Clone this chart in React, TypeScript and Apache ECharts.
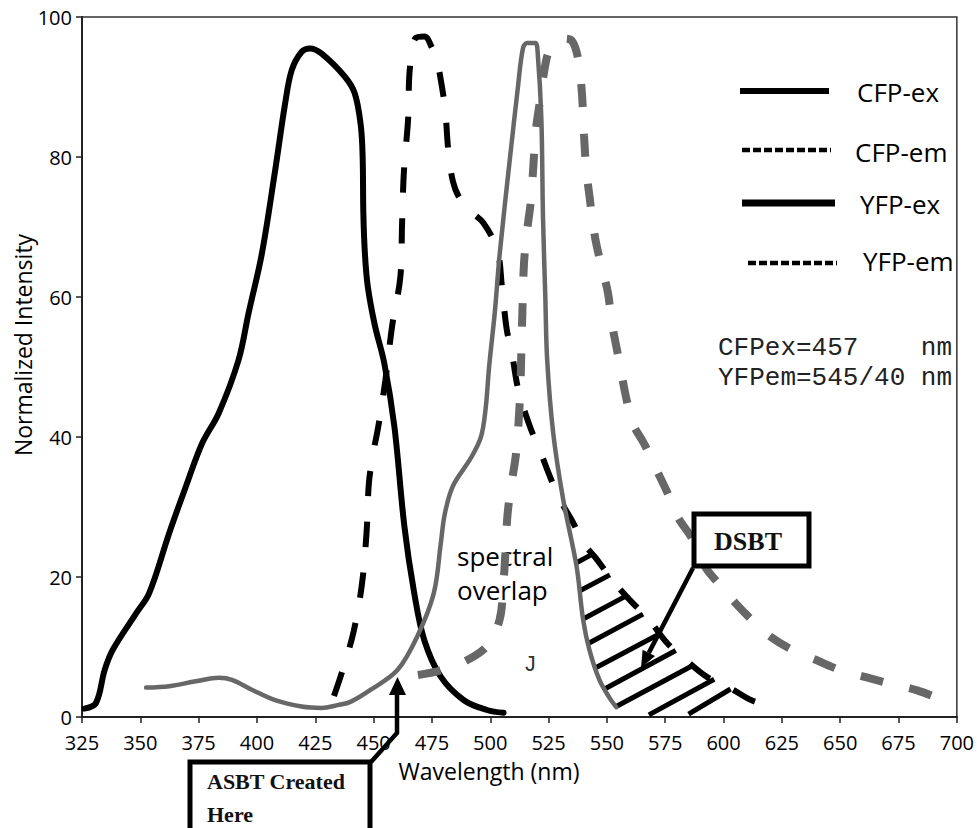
import React, { useEffect, useRef } from "react";
import * as echarts from "echarts";

// Wavelength ticks (nm) and intensity ticks
const X_MIN = 325;
const X_MAX = 700;
const X_STEP = 25;
const Y_MIN = 0;
const Y_MAX = 100;
const Y_STEP = 20;

// [wavelength nm, normalized intensity]
const CFP_EX: [number, number][] = [
  [326, 1.2], [331, 2.0], [334.7, 6.7], [338.2, 9.6], [348.2, 14.8], [353.8, 17.7],
  [362.4, 26.3], [369.5, 32.9], [376.5, 39.1], [383.6, 43.4], [392.1, 51.0], [396.4, 57.7],
  [402.1, 66.2], [407.8, 78.1], [412.1, 87.7], [414.9, 92.4], [419.1, 95.0], [422.7, 95.5],
  [427.6, 94.8], [437.6, 91.5], [441.9, 89.1], [444.5, 84.5], [445.3, 80], [445.6, 72],
  [446.3, 66], [447.5, 61.5], [450.5, 56], [454.6, 50.5], [458.9, 41.5], [463.2, 27.2],
  [467.4, 17.7], [471.7, 11.0], [478.7, 5.8], [488.7, 2.4], [498.6, 1.0], [505.7, 0.6],
];

const CFP_EM: [number, number][] = [
  [433, 3], [437, 7], [441.5, 12.3], [445, 19], [447, 26.5], [448, 33.5], [450, 38],
  [452, 41.5], [455, 48], [458, 56], [461.5, 63], [462.2, 70.5], [463, 78], [464.8, 85.5],
  [465.5, 92.5], [468, 97], [471.8, 97.2], [475, 95.6], [477.3, 93.5], [479, 90.6],
  [480.7, 86.7], [482, 81], [484, 76.5], [487, 74], [491, 72.4], [497, 70.6], [503, 66.7],
  [505, 61.5], [507, 55.5], [509.5, 51.5], [512, 46.8], [517, 41.5], [521, 38.3],
  [526, 34], [530, 31], [535.6, 27.7], [540, 24.8], [545, 22.8], [550, 20.6], [555, 18.5],
  [561, 16.3], [568, 13.9], [576, 10.5], [584, 8.1], [593, 5.7], [603, 4.1], [612, 2.4],
  [623, 1.2],
];

const YFP_EX: [number, number][] = [
  [352.5, 4.2], [362.4, 4.4], [373.8, 5.1], [383.7, 5.6], [389.3, 5.3], [397.8, 3.9],
  [407.8, 2.4], [419.1, 1.5], [427.6, 1.3], [434.7, 1.7], [440.3, 2.2], [448.8, 3.9],
  [460.2, 6.7], [468.7, 11.5], [475.8, 17.7], [478.8, 24.8], [480.5, 29], [484, 33],
  [491.5, 36.9], [496, 40], [498, 44], [499.5, 50], [502, 58], [504, 66], [508.4, 79.7],
  [511.9, 90.1], [514, 95.5], [515.8, 96.3], [519.3, 96.3], [520.4, 94.5], [521.9, 85.5],
  [522.6, 71.5], [523.6, 60], [524.4, 51], [527, 40.5], [531.3, 31], [537, 21.5],
  [539.8, 13.9], [542.5, 9.6], [546.8, 5.3], [551, 2.8], [554, 1.4],
];

const YFP_EM: [number, number][] = [
  [469, 6], [479, 6.7], [490, 8.1], [499, 10.3], [504, 13.9], [505.5, 18.5], [506.5, 23.5],
  [507.3, 28.5], [508.7, 32.5], [511, 37.5], [512.4, 43.5], [513, 48], [513.3, 52],
  [513.7, 57], [514.5, 65], [516, 70], [517.5, 74], [518.7, 80], [519.6, 84], [521.3, 88],
  [523, 92], [525, 95], [528, 96.3], [532, 96.9], [535, 96.6], [537, 95], [538.5, 92],
  [539.5, 88], [540.2, 83], [541.2, 78], [542.5, 74.5], [544, 70.5], [545.5, 67.5],
  [548, 64], [550.5, 60.5], [552, 56.5], [554, 53], [556, 49.5], [558, 46], [561, 42],
  [566, 39], [571, 35.5], [576, 32], [580.5, 28.5], [586.5, 25.5], [592, 21.5],
  [597.5, 19.2], [605, 16.3], [612, 13.9], [620, 11.5], [630, 9.5], [640, 8.1], [650, 6.7],
  [661, 5.7], [671, 4.8], [683, 3.8], [694, 2.4],
];

// DSBT hatching: [w1, v1, w2, v2] in data units
const HATCH: [number, number, number, number][] = [
  [536.8, 22, 544, 23.3],
  [538.2, 18, 551.3, 20.3],
  [539.8, 14, 558.3, 17.3],
  [542, 10.5, 565.5, 14.7],
  [545, 7, 572.7, 11.9],
  [549, 4, 579.5, 9.5],
  [554, 1.5, 587, 7.4],
  [568, 0.3, 596, 5.4],
  [585, 0.4, 603, 4.0],
];

const LEGEND_NAMES = ["CFP-ex", "CFP-em", "YFP-ex", "YFP-em"];

const BLACK = "#000000";
const GRAY = "#676767";
const SANS = "'Open Sans', 'Noto Sans', sans-serif";

export default function App() {
  const ref = useRef<HTMLDivElement>(null);

  useEffect(() => {
    document.body.style.margin = "0";
    const chart = echarts.init(ref.current!, null, { renderer: "svg" });

    const option: any = {
      animation: false,
      backgroundColor: "#ffffff",
      textStyle: { fontFamily: SANS },
      grid: {
        left: 82,
        right: 13,
        top: 17,
        bottom: 111,
        show: true,
        borderColor: "#333",
        borderWidth: 1.5,
      },
      xAxis: {
        type: "value",
        min: X_MIN,
        max: X_MAX,
        interval: X_STEP,
        axisLine: { show: true, onZero: false, lineStyle: { color: "#222", width: 2 } },
        axisTick: { show: true, length: 6, lineStyle: { color: "#222", width: 1.5 } },
        axisLabel: { margin: 15, fontSize: 20, color: "#000", fontFamily: SANS },
        splitLine: { show: false },
      },
      yAxis: {
        type: "value",
        min: Y_MIN,
        max: Y_MAX,
        interval: Y_STEP,
        axisLine: { show: true, lineStyle: { color: "#222", width: 2 } },
        axisTick: { show: true, length: 6, lineStyle: { color: "#222", width: 1.5 } },
        axisLabel: { margin: 10, fontSize: 20, color: "#000", fontFamily: SANS },
        splitLine: { show: false },
      },
      series: [
        {
          type: "lines",
          name: "DSBT hatch",
          coordinateSystem: "cartesian2d",
          polyline: false,
          silent: true,
          data: HATCH.map((h) => ({ coords: [[h[0], h[1]], [h[2], h[3]]] })),
          lineStyle: { color: BLACK, width: 5, opacity: 1, curveness: 0 },
          z: 2,
        },
        {
          name: LEGEND_NAMES[0],
          type: "line",
          data: CFP_EX,
          smooth: 0.35,
          showSymbol: false,
          lineStyle: { color: BLACK, width: 6, cap: "round", join: "round" },
          z: 3,
        },
        {
          name: LEGEND_NAMES[1],
          type: "line",
          data: CFP_EM,
          smooth: 0.35,
          showSymbol: false,
          lineStyle: { color: BLACK, width: 6, type: [25, 26], cap: "butt" },
          z: 3,
        },
        {
          name: LEGEND_NAMES[2],
          type: "line",
          data: YFP_EX,
          smooth: 0.35,
          showSymbol: false,
          lineStyle: { color: GRAY, width: 4.5, cap: "round", join: "round" },
          z: 4,
        },
        {
          name: LEGEND_NAMES[3],
          type: "line",
          data: YFP_EM,
          smooth: 0.35,
          showSymbol: false,
          lineStyle: { color: GRAY, width: 8, type: [23, 27], cap: "butt" },
          z: 4,
        },
      ],
      graphic: [
        // axis titles
        {
          type: "text",
          x: 23,
          y: 345,
          rotation: Math.PI / 2,
          style: {
            text: "Normalized Intensity",
            font: `23px ${SANS}`,
            fill: "#000",
            align: "center",
            verticalAlign: "middle",
          },
        },
        {
          type: "text",
          x: 489,
          y: 771,
          style: {
            text: "Wavelength (nm)",
            font: `23px ${SANS}`,
            fill: "#000",
            align: "center",
            verticalAlign: "middle",
          },
        },
        // legend
        { type: "line", shape: { x1: 740, y1: 91, x2: 829, y2: 91 }, style: { stroke: BLACK, lineWidth: 6 } },
        { type: "text", x: 857, y: 92, style: { text: LEGEND_NAMES[0], font: `26px ${SANS}`, fill: "#000", verticalAlign: "middle" } },
        { type: "line", shape: { x1: 742, y1: 150, x2: 831, y2: 150 }, style: { stroke: BLACK, lineWidth: 4.5, lineDash: [8, 3] } },
        { type: "text", x: 855, y: 152, style: { text: LEGEND_NAMES[1], font: `26px ${SANS}`, fill: "#000", verticalAlign: "middle" } },
        { type: "line", shape: { x1: 742, y1: 203, x2: 835, y2: 203 }, style: { stroke: BLACK, lineWidth: 7 } },
        { type: "text", x: 860, y: 204, style: { text: LEGEND_NAMES[2], font: `26px ${SANS}`, fill: "#000", verticalAlign: "middle" } },
        { type: "line", shape: { x1: 748, y1: 263, x2: 837, y2: 263 }, style: { stroke: BLACK, lineWidth: 4.5, lineDash: [8, 3] } },
        { type: "text", x: 863, y: 261, style: { text: LEGEND_NAMES[3], font: `26px ${SANS}`, fill: "#000", verticalAlign: "middle" } },
        // filter annotations
        { type: "text", x: 718, y: 348, style: { text: "CFPex=457    nm", font: "26px 'Liberation Mono', monospace", fill: "#222", verticalAlign: "middle" } },
        { type: "text", x: 718, y: 378, style: { text: "YFPem=545/40 nm", font: "26px 'Liberation Mono', monospace", fill: "#222", verticalAlign: "middle" } },
        // spectral overlap
        { type: "text", x: 457, y: 556, style: { text: "spectral", font: `26px ${SANS}`, fill: "#000", verticalAlign: "middle" } },
        { type: "text", x: 457, y: 590, style: { text: "overlap", font: `26px ${SANS}`, fill: "#000", verticalAlign: "middle" } },
        { type: "text", x: 530, y: 665, style: { text: "J", font: "22px 'Liberation Mono', monospace", fill: "#333", align: "center", verticalAlign: "middle" } },
        // DSBT box + arrow
        { type: "line", shape: { x1: 693, y1: 568, x2: 648.8, y2: 652.9 }, style: { stroke: BLACK, lineWidth: 4.5 }, z: 10 },
        { type: "polygon", shape: { points: [[641, 668], [655, 656.1], [642.6, 649.7]] }, style: { fill: BLACK }, z: 10 },
        { type: "rect", shape: { x: 694, y: 514, width: 115, height: 52 }, style: { fill: "#fff", stroke: BLACK, lineWidth: 5 }, z: 10 },
        { type: "text", x: 748, y: 541, style: { text: "DSBT", font: "bold 26px 'Liberation Serif', serif", fill: "#111", align: "center", verticalAlign: "middle" }, z: 11 },
        // ASBT box + arrow
        { type: "polyline", shape: { points: [[371, 762], [397, 733], [397, 692]] }, style: { stroke: BLACK, lineWidth: 4.5, fill: null }, z: 10 },
        { type: "polygon", shape: { points: [[397.5, 677], [389, 695], [406, 695]] }, style: { fill: BLACK }, z: 10 },
        { type: "rect", shape: { x: 190, y: 762, width: 180, height: 80 }, style: { fill: "#fff", stroke: BLACK, lineWidth: 5 }, z: 10 },
        { type: "text", x: 207, y: 781, style: { text: "ASBT Created", font: "bold 22px 'Liberation Serif', serif", fill: "#111", verticalAlign: "middle" }, z: 11 },
        { type: "text", x: 207, y: 814, style: { text: "Here", font: "bold 22px 'Liberation Serif', serif", fill: "#111", verticalAlign: "middle" }, z: 11 },
      ],
    };

    chart.setOption(option);
    return () => chart.dispose();
  }, []);

  return (
    <div
      ref={ref}
      style={{ position: "absolute", left: 0, top: 0, width: 977, height: 828 }}
    />
  );
}
